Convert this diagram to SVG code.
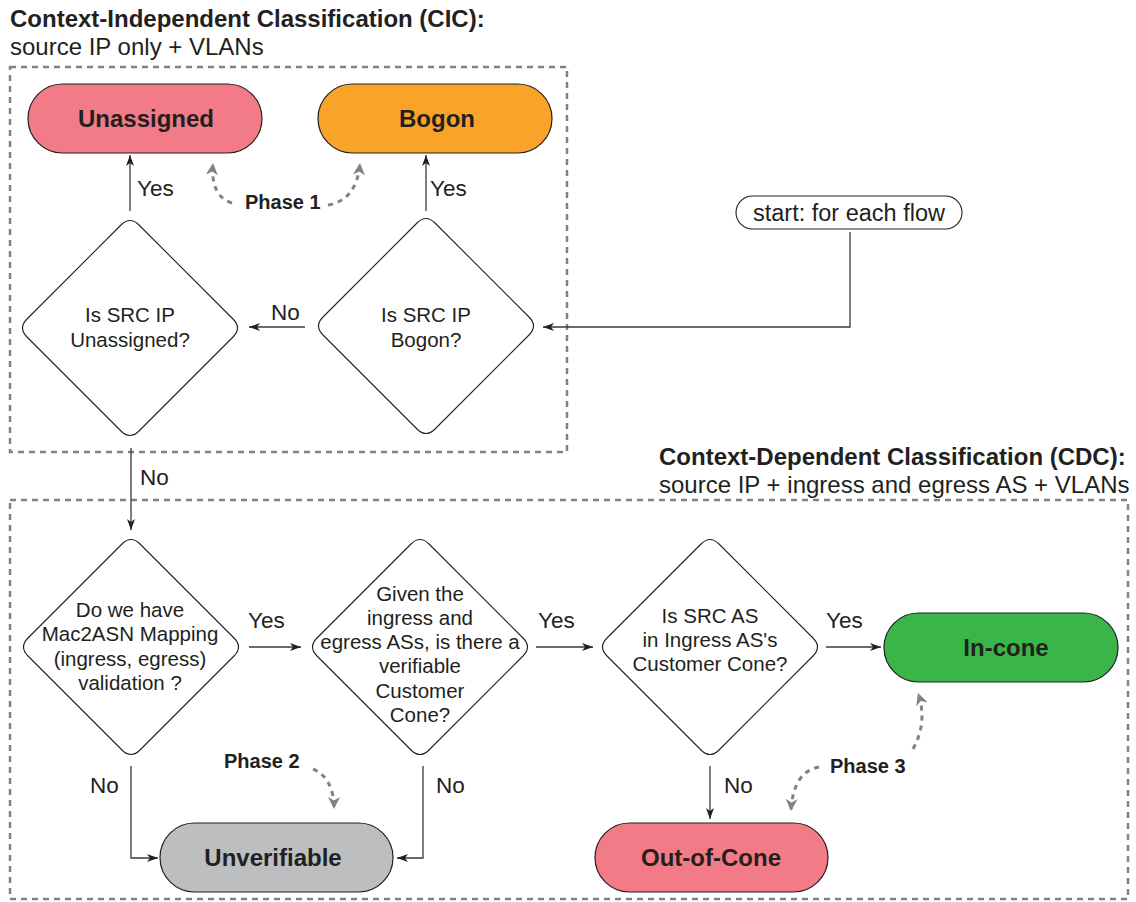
<svg xmlns="http://www.w3.org/2000/svg" width="1136" height="902" viewBox="0 0 1136 902">
  <style>
    text { font-family: "Liberation Sans", Arial, sans-serif; fill: #231f20; }
    .title { font-size: 24px; font-weight: bold; }
    .sub { font-size: 24px; }
    .q { font-size: 20.5px; text-anchor: middle; }
    .lbl { font-size: 22.5px; }
    .term { font-size: 24px; font-weight: bold; text-anchor: middle; }
    .phase { font-size: 20px; font-weight: bold; }
    .frame { fill: none; stroke: #808285; stroke-width: 2.5; stroke-dasharray: 6 5; }
    .pill { stroke: #231f20; stroke-width: 1.2; }
    .dia { fill: #fff; stroke: #231f20; stroke-width: 1.1; }
    .edge { fill: none; stroke: #3a3a3a; stroke-width: 1.3; marker-end: url(#arr); }
    .phasearrow { fill: none; stroke: #808285; stroke-width: 3; stroke-dasharray: 5 5; marker-end: url(#garr); }
  </style>
  <defs>
    <marker id="arr" markerUnits="userSpaceOnUse" markerWidth="12" markerHeight="8" refX="11" refY="4" orient="auto">
      <path d="M0,0 L11,4 L0,8 L3,4 z" fill="#231f20"/>
    </marker>
    <marker id="garr" markerUnits="userSpaceOnUse" markerWidth="13" markerHeight="12" refX="12" refY="6" orient="auto">
      <path d="M0,0 L12,6 L0,12 L3.5,6 z" fill="#808285"/>
    </marker>
  </defs>

  <rect width="1136" height="902" fill="#fff"/>

  <!-- section headings -->
  <text class="title" x="10" y="27">Context-Independent Classification (CIC):</text>
  <text class="sub" x="10" y="55">source IP only + VLANs</text>
  <text class="title" x="659" y="465">Context-Dependent Classification (CDC):</text>
  <text class="sub" x="659" y="493">source IP + ingress and egress AS + VLANs</text>

  <!-- dashed section frames -->
  <rect class="frame" x="10" y="67" width="557" height="385"/>
  <rect class="frame" x="10" y="500" width="1118" height="399"/>

  <!-- connectors -->
  <g id="connectors">
    <path class="edge" d="M130,211 V155"/>
    <path class="edge" d="M426,211 V155"/>
    <path class="edge" d="M305,327 H249"/>
    <path class="edge" d="M850,232 V327 H543"/>
    <path class="edge" d="M131,448 V530"/>
    <path class="edge" d="M249,647 H301"/>
    <path class="edge" d="M536,647 H593"/>
    <path class="edge" d="M826,647 H881"/>
    <path class="edge" d="M131,766 V858 H158"/>
    <path class="edge" d="M423,766 V858 H397"/>
    <path class="edge" d="M710,766 V819"/>

    <text class="lbl" x="137" y="196">Yes</text>
    <text class="lbl" x="430" y="196">Yes</text>
    <text class="lbl" x="271" y="320">No</text>
    <text class="lbl" x="140" y="485">No</text>
    <text class="lbl" x="248" y="628">Yes</text>
    <text class="lbl" x="538" y="628">Yes</text>
    <text class="lbl" x="826" y="628">Yes</text>
    <text class="lbl" x="90" y="793">No</text>
    <text class="lbl" x="436" y="793">No</text>
    <text class="lbl" x="724" y="793">No</text>

    <!-- phase annotations -->
    <path class="phasearrow" d="M232,203 Q210,196 213,163"/>
    <path class="phasearrow" d="M328,205 Q357,200 360,163"/>
    <path class="phasearrow" d="M313,769 Q334,778 334,809"/>
    <path class="phasearrow" d="M819,767 Q793,772 791,811"/>
    <path class="phasearrow" d="M913,749 Q928,722 918,693"/>
  </g>

  <text class="phase" x="245" y="209">Phase 1</text>
  <text class="phase" x="224" y="768">Phase 2</text>
  <text class="phase" x="830" y="773">Phase 3</text>

  <!-- terminal states -->
  <g id="unassigned">
    <rect class="pill" x="28" y="84" width="234" height="69" rx="34.5" fill="#f27b87"/>
    <text class="term" x="146" y="127">Unassigned</text>
  </g>
  <g id="bogon">
    <rect class="pill" x="318" y="84" width="234" height="69" rx="34.5" fill="#f9a328"/>
    <text class="term" x="437" y="127">Bogon</text>
  </g>
  <g id="in-cone">
    <rect class="pill" x="884" y="613" width="234" height="69" rx="34.5" fill="#3ab54a"/>
    <text class="term" x="1006" y="656">In-cone</text>
  </g>
  <g id="unverifiable">
    <rect class="pill" x="160" y="823" width="233" height="69" rx="34.5" fill="#bcbec0"/>
    <text class="term" x="273" y="866">Unverifiable</text>
  </g>
  <g id="out-of-cone">
    <rect class="pill" x="595" y="823" width="233" height="69" rx="34.5" fill="#f27b87"/>
    <text class="term" x="711" y="866">Out-of-Cone</text>
  </g>

  <!-- start -->
  <g id="start">
    <rect x="736" y="196" width="226" height="33" rx="16.5" fill="#fff" stroke="#231f20" stroke-width="1.1"/>
    <text x="849" y="221" font-size="23.5" text-anchor="middle">start: for each flow</text>
  </g>

  <!-- decisions (rounded diamonds, half-size 112) -->
  <g id="is-unassigned">
    <path class="dia" d="M121,225 Q130,216 139,225 L233,319 Q242,328 233,337 L139,431 Q130,440 121,431 L27,337 Q18,328 27,319 Z"/>
    <text class="q" x="130" y="322">Is SRC IP</text>
    <text class="q" x="130" y="347">Unassigned?</text>
  </g>
  <g id="is-bogon">
    <path class="dia" d="M417,223 Q426,214 435,223 L529,317 Q538,326 529,335 L435,429 Q426,438 417,429 L323,335 Q314,326 323,317 Z"/>
    <text class="q" x="426" y="322">Is SRC IP</text>
    <text class="q" x="426" y="347">Bogon?</text>
  </g>
  <g id="mac2asn">
    <path class="dia" d="M122,544 Q131,535 140,544 L234,638 Q243,647 234,656 L140,750 Q131,759 122,750 L28,656 Q19,647 28,638 Z"/>
    <text class="q" x="130" y="617">Do we have</text>
    <text class="q" x="130" y="641">Mac2ASN Mapping</text>
    <text class="q" x="130" y="666">(ingress, egress)</text>
    <text class="q" x="130" y="690">validation ?</text>
  </g>
  <g id="verifiable-cone">
    <path class="dia" d="M411,544 Q420,535 429,544 L523,638 Q532,647 523,656 L429,750 Q420,759 411,750 L317,656 Q308,647 317,638 Z"/>
    <text class="q" x="420" y="601">Given the</text>
    <text class="q" x="420" y="625">ingress and</text>
    <text class="q" x="420" y="649">egress ASs, is there a</text>
    <text class="q" x="420" y="673">verifiable</text>
    <text class="q" x="420" y="698">Customer</text>
    <text class="q" x="420" y="722">Cone?</text>
  </g>
  <g id="in-customer-cone">
    <path class="dia" d="M701,544 Q710,535 719,544 L813,638 Q822,647 813,656 L719,750 Q710,759 701,750 L607,656 Q598,647 607,638 Z"/>
    <text class="q" x="710" y="623">Is SRC AS</text>
    <text class="q" x="710" y="647">in Ingress AS's</text>
    <text class="q" x="710" y="671">Customer Cone?</text>
  </g>
</svg>
